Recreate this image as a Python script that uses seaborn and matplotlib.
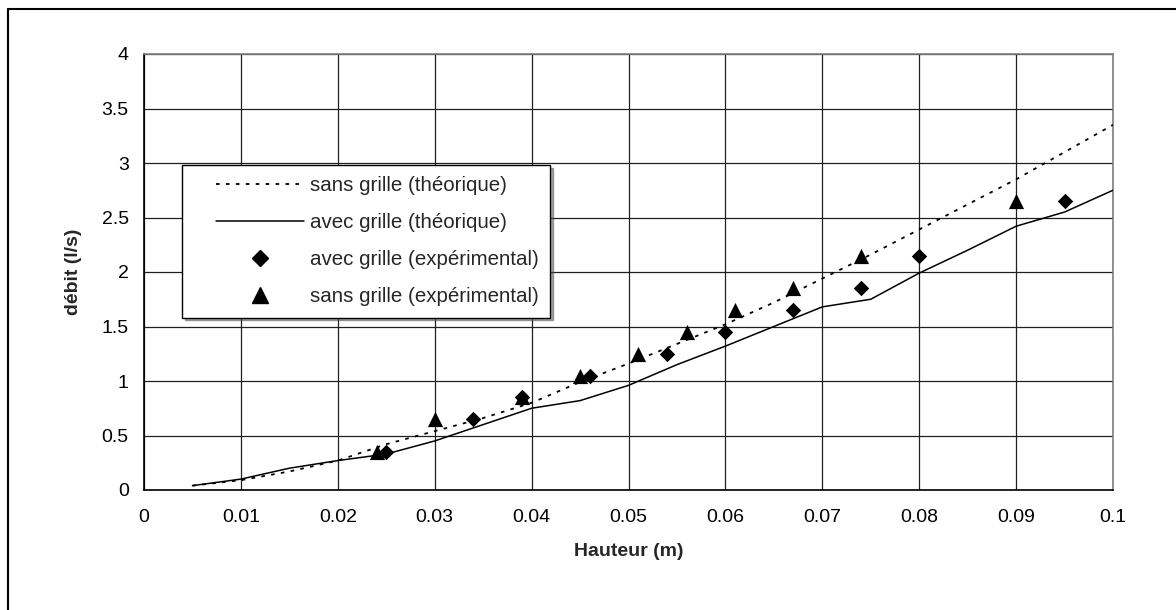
import matplotlib
matplotlib.use("Agg")
import matplotlib.pyplot as plt
from matplotlib.lines import Line2D
from matplotlib.legend_handler import HandlerLine2D
import seaborn as sns
import numpy as np

# ---- data ----
x_theo = [0.005, 0.01, 0.015, 0.02, 0.025, 0.03, 0.035, 0.04, 0.045, 0.05,
          0.055, 0.06, 0.065, 0.07, 0.075, 0.08, 0.085, 0.09, 0.095, 0.1]
sans_theo = [0.04, 0.09, 0.17, 0.27, 0.42, 0.54, 0.66, 0.80, 0.99, 1.16,
             1.34, 1.52, 1.72, 1.94, 2.16, 2.39, 2.62, 2.85, 3.10, 3.35]
avec_theo = [0.04, 0.10, 0.20, 0.27, 0.33, 0.45, 0.60, 0.75, 0.82, 0.96,
             1.15, 1.32, 1.50, 1.68, 1.75, 1.99, 2.20, 2.42, 2.55, 2.75]

x_avec_exp = [0.025, 0.034, 0.039, 0.046, 0.054, 0.060, 0.067, 0.074, 0.080, 0.095]
y_avec_exp = [0.35, 0.65, 0.85, 1.05, 1.25, 1.45, 1.65, 1.85, 2.15, 2.65]
x_sans_exp = [0.024, 0.030, 0.039, 0.045, 0.051, 0.056, 0.061, 0.067, 0.074, 0.090]
y_sans_exp = [0.35, 0.65, 0.85, 1.05, 1.25, 1.45, 1.65, 1.85, 2.15, 2.65]

labels = ["sans grille (théorique)", "avec grille (théorique)",
          "avec grille (expérimental)", "sans grille (expérimental)"]
x_ticks = [0, 0.01, 0.02, 0.03, 0.04, 0.05, 0.06, 0.07, 0.08, 0.09, 0.1]
x_ticklabels = ["0", "0.01", "0.02", "0.03", "0.04", "0.05", "0.06", "0.07", "0.08", "0.09", "0.1"]
y_ticks = [0, 0.5, 1, 1.5, 2, 2.5, 3, 3.5, 4]
y_ticklabels = ["0", "0.5", "1", "1.5", "2", "2.5", "3", "3.5", "4"]

# ---- style ----
sns.set_theme(style="white")
plt.rcParams["font.family"] = ["Liberation Sans", "DejaVu Sans"]

fig = plt.figure(figsize=(11.76, 6.10), dpi=100)
ax = fig.add_axes([144/1176, 1-490/610, 969/1176, 436/610])

dot_style = (0, (2, 3.5))
sns.lineplot(x=x_theo, y=sans_theo, ax=ax, color="black", linewidth=1.3,
             linestyle=dot_style, estimator=None, sort=False, zorder=3)
sns.lineplot(x=x_theo, y=avec_theo, ax=ax, color="black", linewidth=1.1,
             estimator=None, sort=False, zorder=3)
sns.scatterplot(x=x_avec_exp, y=y_avec_exp, ax=ax, marker="D", s=62,
                color="black", edgecolor="black", linewidth=0, zorder=4)
sns.scatterplot(x=x_sans_exp, y=y_sans_exp, ax=ax, marker="^", s=120,
                color="black", edgecolor="black", linewidth=0, zorder=4)

ax.set_xlim(0, 0.1)
ax.set_ylim(0, 4)
ax.set_xticks(x_ticks)
ax.set_xticklabels(x_ticklabels)
ax.set_yticks(y_ticks)
ax.set_yticklabels(y_ticklabels)
ax.tick_params(axis="both", direction="out", length=5, width=1, color="black",
               labelsize=14, labelcolor="black")
ax.tick_params(axis="x", pad=9)
ax.tick_params(axis="y", pad=6)
ax.grid(True, color="#202020", linewidth=0.9)
ax.set_axisbelow(True)
for s in ["left", "bottom"]:
    ax.spines[s].set_color("black")
    ax.spines[s].set_linewidth(1.2)
for s in ["top", "right"]:
    ax.spines[s].set_color("#808080")
    ax.spines[s].set_linewidth(1.2)

ax.set_xlabel("Hauteur (m)", fontsize=14, fontweight="bold", labelpad=12)
ax.set_ylabel("débit (l/s)", fontsize=14, fontweight="bold", labelpad=14)

handles = [
    Line2D([], [], color="black", linewidth=1.3, linestyle=dot_style),
    Line2D([], [], color="black", linewidth=1.1),
    Line2D([], [], color="black", linestyle="none", marker="D", markersize=7.8),
    Line2D([], [], color="black", linestyle="none", marker="^", markersize=11),
]
leg = ax.legend(handles, labels, loc="center", bbox_to_anchor=(0.229, 0.5706),
                fontsize=14.8, frameon=True, fancybox=False, shadow=True,
                edgecolor="black", framealpha=1, borderpad=0.55,
                labelspacing=0.88, handlelength=5.4, handletextpad=0.27,
                handler_map={Line2D: HandlerLine2D(xpad=1.1)})
leg.get_frame().set_linewidth(1.0)

# figure border (left and top edges)
fig.add_artist(Line2D([8/1176, 8/1176], [0, 1-9/610], color="black", linewidth=1.5,
                      transform=fig.transFigure))
fig.add_artist(Line2D([8/1176, 1], [1-9/610, 1-9/610], color="black", linewidth=1.5,
                      transform=fig.transFigure))

fig.savefig("out.png", dpi=100)
